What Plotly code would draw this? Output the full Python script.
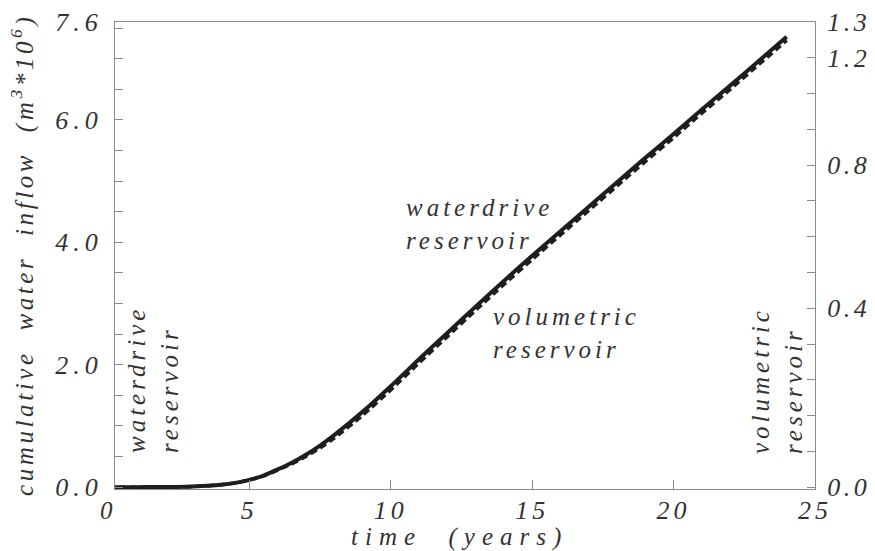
import plotly.graph_objects as go

# Cumulative water inflow (10^6 m^3) versus time (years)
time_years = [0, 1, 2, 3, 4, 4.5, 5, 5.5, 6, 6.5, 7, 7.5, 8, 9, 10, 11, 12,
              13, 14, 15, 16, 17, 18, 19, 20, 21, 22, 23, 24]
waterdrive = [0, 0, 0.003, 0.012, 0.04, 0.07, 0.12, 0.19, 0.29, 0.40, 0.53,
              0.68, 0.85, 1.23, 1.65, 2.09, 2.52, 2.95, 3.37, 3.78, 4.18,
              4.58, 4.98, 5.38, 5.77, 6.17, 6.56, 6.96, 7.36]
volumetric = [0, 0, 0.003, 0.012, 0.04, 0.07, 0.12, 0.18, 0.28, 0.38, 0.50,
              0.64, 0.80, 1.17, 1.59, 2.03, 2.46, 2.89, 3.31, 3.72, 4.12,
              4.52, 4.92, 5.32, 5.71, 6.11, 6.50, 6.90, 7.30]

# Axis ticks and labels
x_tick_vals = [5, 10, 15, 20, 25]
x_tick_labels = ["5", "10", "15", "20", "25"]
y_tick_vals = [0, 0.5, 1, 1.5, 2, 2.5, 3, 3.5, 4, 4.5, 5, 5.5, 6, 6.5, 7, 7.5, 7.6]
y_tick_labels = ["0.0", "", "", "", "2.0", "", "", "", "4.0", "", "", "", "6.0",
                 "", "", "", "7.6"]
y2_tick_vals = list(range(14))
y2_tick_labels = ["0.0", "", "", "", "", "0.4", "", "", "", "0.8", "", "",
                  "1.2", "1.3"]

FONT = "Liberation Serif"
TEXT = "#333333"
AXIS = "#8c8c8c"
LINE = "#1e1e1e"

# plot area in page pixels
L, R, T, B = 115, 815, 22, 489
W, H = 875, 551


def px(xp):
    return (xp - L) / (R - L)


def py(yp):
    return (B - yp) / (B - T)


def spaced(s, ls=4):
    return f'<span style="letter-spacing:{ls}px">{s}</span>' if s else ""


tick_font = dict(family=FONT, size=26, color=TEXT, style="italic")
note_font = dict(family=FONT, size=25, color=TEXT, style="italic")

fig = go.Figure()
fig.add_trace(go.Scatter(x=time_years, y=waterdrive, mode="lines",
                         line=dict(color=LINE, width=4, shape="spline", smoothing=0.6),
                         showlegend=False, hoverinfo="skip"))
fig.add_trace(go.Scatter(x=time_years, y=volumetric, mode="lines",
                         line=dict(color=LINE, width=3.5, dash="7px,4px",
                                   shape="spline", smoothing=0.6),
                         showlegend=False, hoverinfo="skip"))
# carrier for the right-hand axis
fig.add_trace(go.Scatter(x=[None], y=[None], yaxis="y2", showlegend=False,
                         hoverinfo="skip"))

common = dict(tickmode="array", tickcolor=AXIS, tickwidth=1, ticks="inside",
              showline=True, linecolor=AXIS, linewidth=1, showgrid=False,
              zeroline=False, tickfont=tick_font, automargin=False)

fig.update_layout(
    width=W, height=H,
    margin=dict(l=L, r=W - R, t=T, b=H - B, pad=0, autoexpand=False),
    paper_bgcolor="white", plot_bgcolor="white",
    xaxis=dict(range=[0.25, 25], tickvals=x_tick_vals,
               ticktext=[spaced(t) for t in x_tick_labels],
               ticklen=9, mirror=True, ticklabelstandoff=-2, **common),
    yaxis=dict(range=[-0.03, 7.6], tickvals=y_tick_vals,
               ticktext=[spaced(t, 5) for t in y_tick_labels],
               ticklen=8, ticklabelstandoff=6, **common),
    yaxis2=dict(range=[-0.05, 13], overlaying="y", side="right",
                tickvals=y2_tick_vals,
                ticktext=[spaced(t, 3.5) for t in y2_tick_labels],
                ticklen=8, ticklabelstandoff=6, **common),
)

annotations = [
    # x-axis origin label
    dict(x=px(108), y=py(511), text=spaced("0")),
    # axis titles
    dict(x=px(459), y=py(537), text=spaced("time  (years)", 7)),
    dict(x=px(22), y=py(255), textangle=-90,
         text=spaced("cumulative  water  inflow  (m<sup>3</sup>*10<sup>6</sup>)", 3.6)),
    # curve labels
    dict(x=px(404), y=py(224), xanchor="left", align="left",
         text=spaced("waterdrive<br>reservoir", 4)),
    dict(x=px(491), y=py(333), xanchor="left", align="left",
         text=spaced("volumetric<br>reservoir", 4)),
    dict(x=px(153), y=py(380), textangle=-90, align="left",
         text=spaced("waterdrive<br>reservoir", 4)),
    dict(x=px(777), y=py(381), textangle=-90, align="left",
         text=spaced("volumetric<br>reservoir", 4)),
]
for a in annotations:
    a.setdefault("xanchor", "center")
    a.setdefault("yanchor", "middle")
    fig.add_annotation(xref="paper", yref="paper", showarrow=False,
                       font=note_font, **a)

fig.write_html("out.html")
